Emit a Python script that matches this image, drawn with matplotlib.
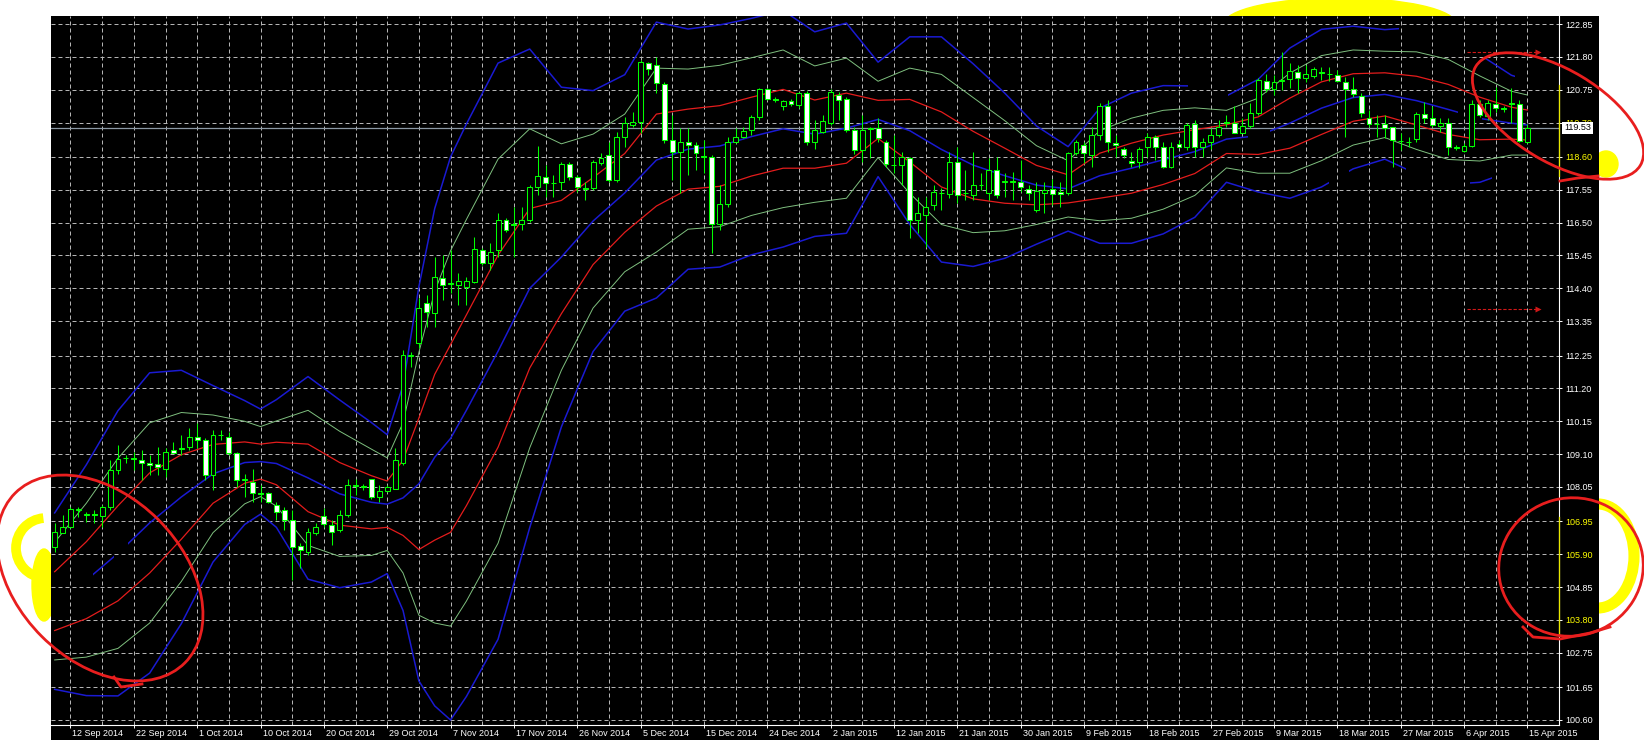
import numpy as np
import matplotlib
matplotlib.use("Agg")
import matplotlib.pyplot as plt
import matplotlib.transforms as mtransforms
from matplotlib.patches import Ellipse, Arc, Rectangle
from matplotlib.path import Path

plt.rcParams['font.family'] = ['Liberation Sans', 'DejaVu Sans']

# daily candles, 10 Sep 2014 .. 15 Apr 2015 (broker with Sunday bars)
opens = [106.14, 106.59, 106.78, 107.31, 107.15, 107.17, 107.12, 107.42, 108.59, 108.96,
         108.97, 108.91, 108.80, 108.78, 108.64, 109.23, 109.27, 109.34, 109.64, 109.55,
         108.43, 109.70, 109.66, 109.12, 108.27, 108.22, 107.85, 107.85, 107.47, 107.31,
         106.99, 106.16, 105.98, 106.57, 107.12, 106.83, 106.67, 107.15, 108.08, 108.06,
         108.29, 107.74, 107.93, 108.00, 108.80, 112.25, 112.64, 113.92, 113.62, 114.72,
         114.53, 114.50, 114.45, 114.61, 115.62, 115.20, 115.62, 116.58, 116.45, 116.45,
         116.58, 117.63, 117.97, 117.76, 117.81, 118.39, 117.95, 117.61, 117.60, 118.40,
         118.66, 117.86, 119.25, 119.62, 119.73, 121.61, 121.54, 120.93, 119.14, 118.77,
         119.09, 118.98, 118.63, 118.61, 116.46, 117.09, 119.09, 119.25, 119.46, 119.87,
         120.76, 120.45, 120.23, 120.40, 120.26, 120.63, 119.09, 119.41, 119.67, 120.58,
         120.44, 119.46, 118.82, 119.49, 119.51, 119.09, 118.34, 118.34, 118.56, 116.58,
         116.74, 117.06, 117.45, 117.43, 118.45, 117.46, 117.38, 117.69, 117.44, 118.18,
         117.80, 117.81, 117.81, 117.59, 116.92, 117.46, 117.56, 117.47, 117.44, 118.72,
         118.98, 118.66, 119.30, 120.23, 119.06, 118.87, 118.47, 118.45, 118.93, 119.25,
         118.93, 118.29, 119.01, 118.93, 119.65, 118.93, 119.09, 119.30, 119.72, 119.68,
         119.38, 119.59, 120.01, 121.04, 120.76, 121.04, 121.08, 121.33, 121.11, 121.19,
         121.33, 121.25, 121.22, 121.01, 120.76, 120.56, 119.83, 119.65, 119.65, 119.55,
         119.12, 119.09, 119.16, 119.96, 119.86, 119.59, 119.70, 118.92, 118.80, 118.95,
         120.29, 119.91, 120.29, 120.15, 120.31, 120.29, 119.09]
highs = [106.90, 107.15, 107.42, 107.42, 107.26, 107.31, 107.47, 108.91, 109.39, 109.07,
         109.18, 109.23, 109.07, 109.34, 109.28, 109.50, 109.71, 109.92, 110.08, 109.60,
         109.87, 109.87, 109.82, 109.18, 108.48, 108.64, 108.11, 107.90, 107.58, 107.42,
         107.31, 106.25, 106.73, 106.89, 107.37, 106.99, 107.31, 108.32, 108.32, 108.16,
         108.32, 108.11, 108.11, 109.28, 112.43, 112.37, 114.10, 114.19, 115.41, 115.46,
         115.62, 114.88, 114.77, 116.05, 115.68, 115.84, 116.80, 116.64, 117.01, 117.01,
         117.70, 118.96, 118.34, 118.02, 118.45, 118.45, 118.02, 117.81, 118.50, 118.72,
         119.09, 119.41, 119.89, 120.05, 121.70, 121.65, 121.81, 121.01, 119.94, 119.51,
         119.51, 119.09, 119.14, 118.66, 117.70, 119.25, 119.51, 119.57, 119.94, 120.82,
         120.82, 120.53, 120.42, 120.45, 120.69, 120.72, 119.78, 119.94, 120.76, 120.69,
         120.53, 119.57, 119.94, 119.57, 119.83, 119.14, 119.30, 118.77, 118.61, 117.33,
         117.33, 117.70, 117.60, 118.77, 118.93, 118.18, 118.77, 118.08, 118.56, 118.61,
         118.08, 118.13, 118.50, 117.70, 117.81, 117.81, 117.91, 117.81, 118.77, 119.14,
         119.09, 119.57, 120.31, 120.42, 119.30, 118.93, 118.77, 118.93, 119.35, 119.30,
         119.09, 119.09, 119.14, 119.68, 119.78, 119.19, 119.51, 119.78, 119.94, 120.23,
         119.83, 120.33, 121.11, 121.25, 121.22, 121.96, 121.59, 121.54, 121.54, 121.48,
         121.48, 121.48, 121.38, 121.14, 121.17, 120.63, 120.10, 119.94, 119.94, 119.57,
         119.35, 119.25, 120.05, 120.37, 120.23, 119.86, 119.83, 118.98, 119.03, 120.42,
         120.42, 120.42, 120.85, 120.23, 120.82, 120.42, 119.65]
lows = [105.98, 106.57, 106.73, 107.10, 106.94, 106.89, 106.78, 107.31, 108.48, 108.81,
        108.59, 108.27, 108.43, 108.43, 108.38, 109.12, 109.07, 109.23, 109.28, 108.27,
        107.95, 109.55, 109.07, 108.06, 107.74, 107.58, 107.58, 107.53, 106.99, 106.67,
        105.08, 105.45, 105.87, 106.51, 106.78, 106.19, 106.62, 107.10, 107.79, 107.95,
        107.68, 107.58, 107.90, 108.00, 108.75, 111.89, 112.48, 113.17, 113.17, 114.03,
        114.24, 113.87, 113.87, 114.56, 115.14, 114.98, 115.41, 116.21, 115.41, 116.26,
        116.53, 117.38, 117.33, 117.33, 117.54, 117.86, 117.49, 117.22, 117.54, 118.34,
        117.81, 117.81, 118.93, 119.57, 119.35, 121.22, 120.63, 119.03, 117.86, 117.44,
        118.02, 118.18, 118.08, 115.52, 116.26, 117.01, 119.03, 119.20, 119.30, 119.78,
        120.42, 120.37, 120.10, 120.23, 120.18, 118.98, 118.87, 119.35, 119.62, 119.78,
        119.41, 118.71, 118.45, 118.56, 119.09, 118.29, 118.08, 117.70, 116.00, 116.16,
        115.73, 116.90, 116.90, 117.28, 117.12, 117.22, 117.22, 117.54, 117.22, 117.28,
        117.33, 117.22, 117.49, 117.22, 116.85, 116.80, 117.06, 117.01, 117.38, 118.66,
        118.40, 118.29, 119.14, 118.77, 118.61, 118.56, 118.29, 118.24, 118.61, 118.50,
        118.24, 118.24, 118.88, 118.82, 118.61, 118.61, 118.87, 119.25, 119.57, 119.35,
        119.35, 119.51, 119.94, 120.69, 120.58, 120.74, 120.82, 120.63, 121.01, 121.12,
        121.06, 121.04, 121.01, 119.25, 120.53, 119.89, 119.57, 119.25, 119.19, 118.29,
        118.82, 118.93, 119.09, 119.70, 119.57, 119.41, 118.66, 118.82, 118.77, 118.93,
        119.89, 119.78, 120.05, 120.05, 119.67, 119.09, 119.03]
closes = [106.62, 106.78, 107.34, 107.33, 107.17, 107.15, 107.42, 108.59, 108.93, 108.98,
          108.95, 108.80, 108.74, 108.68, 109.18, 109.15, 109.29, 109.64, 109.55, 108.43,
          109.71, 109.72, 109.12, 108.27, 108.29, 107.85, 107.83, 107.58, 107.26, 106.99,
          106.14, 106.05, 106.62, 106.78, 106.86, 106.62, 107.15, 108.11, 108.10, 108.08,
          107.74, 107.93, 108.06, 108.91, 112.27, 112.28, 113.76, 113.65, 114.77, 114.51,
          114.58, 114.64, 114.64, 115.65, 115.20, 115.57, 116.58, 116.26, 116.44, 116.58,
          117.63, 117.99, 117.78, 117.78, 118.37, 117.95, 117.63, 117.59, 118.45, 118.58,
          117.86, 119.25, 119.67, 119.73, 121.65, 121.40, 120.95, 119.14, 118.77, 119.09,
          118.98, 118.74, 118.61, 116.46, 117.09, 119.09, 119.25, 119.43, 119.89, 120.76,
          120.44, 120.43, 120.40, 120.28, 120.63, 119.09, 119.46, 119.76, 120.69, 120.42,
          119.46, 118.82, 119.46, 119.51, 119.19, 118.39, 118.33, 118.61, 116.58, 116.80,
          117.01, 117.49, 117.46, 118.45, 117.38, 117.45, 117.70, 117.71, 118.18, 117.38,
          117.82, 117.82, 117.65, 117.46, 117.52, 117.55, 117.41, 117.41, 118.72, 119.09,
          118.72, 119.30, 120.23, 119.09, 118.98, 118.66, 118.40, 118.87, 119.25, 118.93,
          118.29, 118.93, 118.91, 119.62, 118.93, 119.09, 119.30, 119.57, 119.68, 119.38,
          119.59, 120.01, 121.06, 120.76, 121.01, 121.06, 121.36, 121.12, 121.25, 121.40,
          121.27, 121.24, 121.04, 120.76, 120.60, 119.99, 119.65, 119.64, 119.51, 119.14,
          119.11, 119.08, 119.97, 119.86, 119.62, 119.70, 118.91, 118.90, 118.95, 120.29,
          119.94, 120.33, 120.15, 120.14, 120.30, 119.12, 119.53]

date_labels = ['12 Sep 2014', '22 Sep 2014', '1 Oct 2014', '10 Oct 2014', '20 Oct 2014',
               '29 Oct 2014', '7 Nov 2014', '17 Nov 2014', '26 Nov 2014', '5 Dec 2014',
               '15 Dec 2014', '24 Dec 2014', '2 Jan 2015', '12 Jan 2015', '21 Jan 2015',
               '30 Jan 2015', '9 Feb 2015', '18 Feb 2015', '27 Feb 2015', '9 Mar 2015',
               '18 Mar 2015', '27 Mar 2015', '6 Apr 2015', '15 Apr 2015']
first_label_bar = 2
label_step = 8

price_labels = ['122.85', '121.80', '120.75', '119.70', '118.60', '117.55', '116.50',
                '115.45', '114.40', '113.35', '112.25', '111.20', '110.15', '109.10',
                '108.05', '106.95', '105.90', '104.85', '103.80', '102.75', '101.65', '100.60']
yellow_labels = ['119.70', '118.60', '106.95', '105.90', '103.80']
yellow_axis_spans = [(118.0, 120.9), (103.3, 107.1)]

# bollinger bands (20 SMA with 1, 2 and 3 deviations), read at these bars
band_bars = [0, 4, 8, 12, 16, 20, 24, 26, 28, 32, 36, 40, 42, 44, 46, 48, 50, 52, 56, 60,
             64, 68, 72, 76, 80, 84, 88, 92, 96, 100, 104, 108, 112, 116, 120, 124, 128,
             132, 136, 140, 144, 148, 152, 156, 160, 164, 168, 172, 176, 180, 184, 186]
band_mid = [104.40, 105.07, 105.93, 106.90, 107.73, 108.47, 108.83, 108.86, 108.80, 108.34,
            107.83, 107.56, 107.50, 107.70, 108.15, 109.00, 109.60, 110.50, 112.39, 114.40,
            115.40, 116.55, 117.45, 118.50, 118.85, 118.95, 119.25, 119.50, 119.33, 119.52,
            119.80, 119.44, 118.84, 118.34, 118.00, 117.70, 117.58, 118.00, 118.24, 118.51,
            118.77, 119.17, 119.28, 119.68, 120.16, 120.50, 120.60, 120.40, 120.12, 119.83,
            119.68, 119.62]
band_dev = [0.94, 1.23, 1.52, 1.60, 1.35, 0.94, 0.66, 0.56, 0.68, 1.08,
            1.00, 0.85, 0.74, 1.20, 2.10, 2.65, 3.00, 3.05, 3.07, 2.55,
            1.81, 1.39, 1.26, 1.47, 1.28, 1.29, 1.26, 1.26, 1.09, 1.12,
            0.61, 1.00, 1.20, 1.08, 0.88, 0.63, 0.45, 0.72, 0.80, 0.79,
            0.70, 0.46, 0.60, 0.80, 0.84, 0.76, 0.69, 0.78, 0.80, 0.68,
            0.51, 0.48]
# the blue lines are broken in places on the screenshot
mid_shown = [(4.8, 7.5), (9.2, 150.7), (153.5, 177.3), (180.3, 190)]
upper3_shown = [(-1, 143.2), (148.2, 169.8), (180.7, 184.4)]
lower3_shown = [(-1, 161.0), (163.5, 170.7), (178.7, 181.5)]

arrow_levels = [121.97, 113.73]
arrow_from_bar = 178.4

LIME = '#00ff00'
BLUE = '#1a1ad2'
GREEN = '#7fc07f'
RED = '#e41c1c'


def keep_spans(line, ax, spans):
    rects = [Path([(a, 0), (b, 0), (b, 300), (a, 300), (a, 0)], closed=True) for a, b in spans]
    line.set_clip_path(Path.make_compound_path(*rects), ax.transData)


fig = plt.figure(figsize=(16.44, 7.40), dpi=100, facecolor='white')
W, H = 1644.0, 740.0

# black chart background incl. price/date strips
fig.add_artist(Rectangle((51 / W, 0), 1548 / W, 724 / H, transform=fig.transFigure,
                         facecolor='black', edgecolor='none', zorder=-5))

ax = fig.add_axes([51 / W, 15 / H, 1508 / W, 709 / H], facecolor='black')

bars = np.arange(len(closes))
o = np.array(opens); c = np.array(closes); h = np.array(highs); l = np.array(lows)
bull = c >= o

# bands
bb = np.array(band_bars); m = np.array(band_mid); d = np.array(band_dev)
for k, col, lw in [(1, RED, 0.9), (2, GREEN, 0.7)]:
    ax.plot(bb, m + k * d, color=col, lw=lw, zorder=2)
    ax.plot(bb, m - k * d, color=col, lw=lw, zorder=2)
ln, = ax.plot(bb, m + 3 * d, color=BLUE, lw=1.1, zorder=2)
keep_spans(ln, ax, upper3_shown)
ln, = ax.plot(bb, m - 3 * d, color=BLUE, lw=1.1, zorder=2)
keep_spans(ln, ax, lower3_shown)
ln, = ax.plot(bb, m, color=BLUE, lw=1.1, zorder=2)
keep_spans(ln, ax, mid_shown)

# bid line
ax.axhline(closes[-1], color='#8c98a4', lw=0.9, zorder=1.8)

# candles
ax.vlines(bars, l, h, color=LIME, lw=0.75, zorder=3)
ax.bar(bars, np.abs(c - o), bottom=np.minimum(o, c), width=0.62,
       color=np.where(bull, 'black', 'white'), edgecolor=LIME, linewidth=0.75, zorder=4)

# dotted red level arrows
for lvl in arrow_levels:
    ax.plot([arrow_from_bar, 187.3], [lvl, lvl], color='#d01818', lw=0.8,
            ls=(0, (3, 1.6)), zorder=5)
    ax.plot([187.4], [lvl], marker='>', ms=5, color='#d01818', mec='none',
            zorder=5, clip_on=False)

ax.set_xlim(-0.4625, 188.04)
ax.set_ylim(100.44, 123.106)

# axes / ticks
label_bars = [first_label_bar + label_step * n for n in range(len(date_labels))]
ax.set_xticks(label_bars)
ax.set_xticklabels(date_labels, ha='left')
ax.set_xticks([b + label_step // 2 for b in label_bars], minor=True)
ax.yaxis.tick_right()
ax.set_yticks([float(p) for p in price_labels])
ax.set_yticklabels(price_labels)
ax.tick_params(axis='both', which='major', colors='white', length=2.2, width=0.7,
               labelsize=6.5)
ax.tick_params(axis='x', which='major', pad=1.0)
ax.tick_params(axis='y', which='major', pad=2.0)
ax.tick_params(axis='x', which='minor', length=0)
for t in ax.get_yticklabels():
    if t.get_text() in yellow_labels:
        t.set_color('#ffff00')
shift = mtransforms.ScaledTranslation(2 / 100, 0, fig.dpi_scale_trans)
for t in ax.get_xticklabels():
    t.set_transform(t.get_transform() + shift)

ax.grid(True, which='both', color='#b4b4b4', lw=0.72, ls=(0, (4, 3)), zorder=0)
ax.set_axisbelow(True)
for s in ['top', 'left']:
    ax.spines[s].set_visible(False)
for s in ['bottom', 'right']:
    ax.spines[s].set_color('white')
    ax.spines[s].set_linewidth(0.8)

edge = mtransforms.blended_transform_factory(ax.transAxes, ax.transData)
for lo, hi in yellow_axis_spans:
    ax.plot([1, 1], [lo, hi], transform=edge, color='#e8e800', lw=0.9, clip_on=False, zorder=6)

ax.annotate('%.2f' % closes[-1], xy=(1, closes[-1]), xycoords=edge,
            xytext=(5, 0), textcoords='offset pixels', ha='left', va='center',
            fontsize=6.5, color='black', annotation_clip=False, zorder=7,
            bbox=dict(boxstyle='square,pad=0.2', fc='white', ec='none'))

# hand-made marks on the screenshot: yellow highlighter (behind the chart)
yov = fig.add_axes([0, 0, 1, 1], zorder=-10)
yov.set_xlim(0, W); yov.set_ylim(H, 0); yov.axis('off')
YEL = '#ffff00'
yov.add_patch(Ellipse((1340, 24), 232, 52, color=YEL))
yov.add_patch(Ellipse((1606, 164), 24, 26, color=YEL))
yov.add_patch(Arc((1598, 556), 72, 104, theta1=-90, theta2=90, color=YEL, lw=8))
yov.add_patch(Arc((46, 548), 60, 60, theta1=95, theta2=265, color=YEL, lw=7))
yov.add_patch(Ellipse((44, 585), 24, 72, color=YEL))

# red pen circles (on top)
rov = fig.add_axes([0, 0, 1, 1], zorder=10)
rov.set_xlim(0, W); rov.set_ylim(H, 0); rov.axis('off')
PEN = '#e81e1e'
rov.add_patch(Ellipse((100, 578), 240, 165, angle=45, fill=False, ec=PEN, lw=2.0))
rov.plot([114, 121, 142], [677, 687, 684], color=PEN, lw=2.0)
rov.add_patch(Ellipse((1558, 116), 192, 92, angle=31, fill=False, ec=PEN, lw=2.0))
rov.plot([1598, 1578, 1560], [176, 178, 181], color=PEN, lw=2.0)
rov.add_patch(Ellipse((1571, 567), 145, 138, angle=-15, fill=False, ec=PEN, lw=2.0))
rov.plot([1523, 1533, 1560, 1590, 1610], [627, 637, 639, 633, 627], color=PEN, lw=2.0)

fig.savefig('out.png', dpi=100, facecolor='white')
